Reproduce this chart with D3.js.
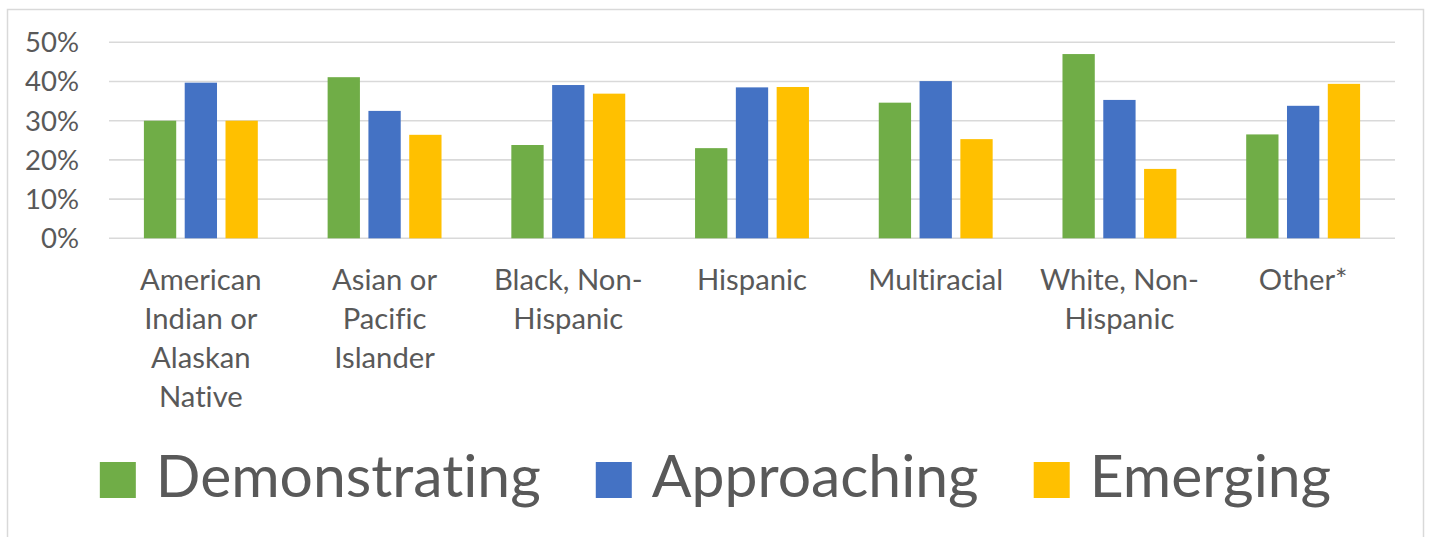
<!DOCTYPE html>
<html>
<head>
<meta charset="utf-8">
<script src="https://cdn.jsdelivr.net/npm/d3@7"></script>
<style>
  html, body { margin: 0; padding: 0; background: #fff; }
  svg { display: block; }
  text { font-family: Lato, "Open Sans", sans-serif; fill: #595959; font-variant-ligatures: none; }
</style>
</head>
<body>
<svg id="chart" width="1429" height="537"></svg>
<script>
const categories = [
  "American Indian or Alaskan Native",
  "Asian or Pacific Islander",
  "Black, Non-Hispanic",
  "Hispanic",
  "Multiracial",
  "White, Non-Hispanic",
  "Other*"
];
const categoryLines = [
  ["American", "Indian or", "Alaskan", "Native"],
  ["Asian or", "Pacific", "Islander"],
  ["Black, Non-", "Hispanic"],
  ["Hispanic"],
  ["Multiracial"],
  ["White, Non-", "Hispanic"],
  ["Other*"]
];
const seriesNames = ["Demonstrating", "Approaching", "Emerging"];
const demonstrating = [0.300, 0.411, 0.238, 0.230, 0.346, 0.470, 0.265];
const approaching   = [0.397, 0.325, 0.391, 0.385, 0.401, 0.353, 0.338];
const emerging      = [0.300, 0.264, 0.369, 0.386, 0.253, 0.177, 0.394];
const yTicks = [0, 0.1, 0.2, 0.3, 0.4, 0.5];
const colors = ["#70AD47", "#4472C4", "#FFC000"];

(function () {
const series = [demonstrating, approaching, emerging];
const svg = d3.select("#chart");

// chart border
svg.append("rect")
  .attr("x", 7.5).attr("y", 9.5)
  .attr("width", 1416).attr("height", 560)
  .attr("fill", "#fff").attr("stroke", "#d9d9d9").attr("stroke-width", 1.5);

const pLeft = 109, pRight = 1395, pTop = 42.3, pBottom = 238.3;

const x0 = d3.scaleBand().domain(categories).range([pLeft, pRight]).paddingInner(0).paddingOuter(0);
const bw = 32.3, step = 40.8;
const y = d3.scaleLinear().domain([0, 0.5]).range([pBottom, pTop]);

// fit-font helper
function fitSize(str, targetWidth, baseSize) {
  const t = svg.append("text").attr("font-size", baseSize).text(str);
  const w = t.node().getComputedTextLength();
  t.remove();
  return baseSize * targetWidth / w;
}
const tickSize = fitSize("50%", 54, 31);
const catSize = fitSize("Multiracial", 135, 31);
const legSize = fitSize("Demonstrating", 385, 64);

// gridlines
svg.append("g").selectAll("line").data(yTicks).join("line")
  .attr("x1", pLeft).attr("x2", pRight)
  .attr("y1", d => y(d)).attr("y2", d => y(d))
  .attr("stroke", "#d9d9d9").attr("stroke-width", 1.6);

// y axis labels
const yAxis = d3.axisLeft(y).tickValues(yTicks).tickFormat(d3.format(".0%")).tickSize(0).tickPadding(0);
const yg = svg.append("g").attr("transform", `translate(79,0)`).call(yAxis);
yg.attr("font-family", null).attr("font-size", null);
yg.select(".domain").remove();
yg.selectAll("text")
  .attr("font-size", tickSize)
  .attr("dy", "0.34em")
  .attr("fill", "#595959");

// bars
series.forEach((vals, si) => {
  svg.append("g").selectAll("rect").data(vals).join("rect")
    .attr("x", (d, i) => x0(categories[i]) + x0.bandwidth() / 2 - (step * 2 + bw) / 2 + si * step)
    .attr("width", bw)
    .attr("y", d => y(d))
    .attr("height", d => y(0) - y(d))
    .attr("fill", colors[si]);
});

// category labels
const cg = svg.append("g");
categories.forEach((c, i) => {
  const t = cg.append("text")
    .attr("text-anchor", "middle")
    .attr("font-size", catSize);
  categoryLines[i].forEach((ln, j) => {
    t.append("tspan")
      .attr("x", x0(c) + x0.bandwidth() / 2)
      .attr("y", 290 + j * 39)
      .text(ln);
  });
});

// legend
const lg = svg.append("g");
const items = seriesNames.map((n, i) => {
  const t = lg.append("text").attr("font-size", legSize).attr("y", 497).text(n);
  return { t, w: t.node().getComputedTextLength(), i };
});
const sq = 36, gap1 = 20, gap2 = 55;
const total = items.reduce((s, it) => s + sq + gap1 + it.w, 0) + gap2 * (items.length - 1);
let cx = 715.5 - total / 2;
items.forEach(it => {
  lg.append("rect").attr("x", cx).attr("y", 462).attr("width", sq).attr("height", sq).attr("fill", colors[it.i]);
  it.t.attr("x", cx + sq + gap1);
  cx += sq + gap1 + it.w + gap2;
});
})();
</script>
</body>
</html>
